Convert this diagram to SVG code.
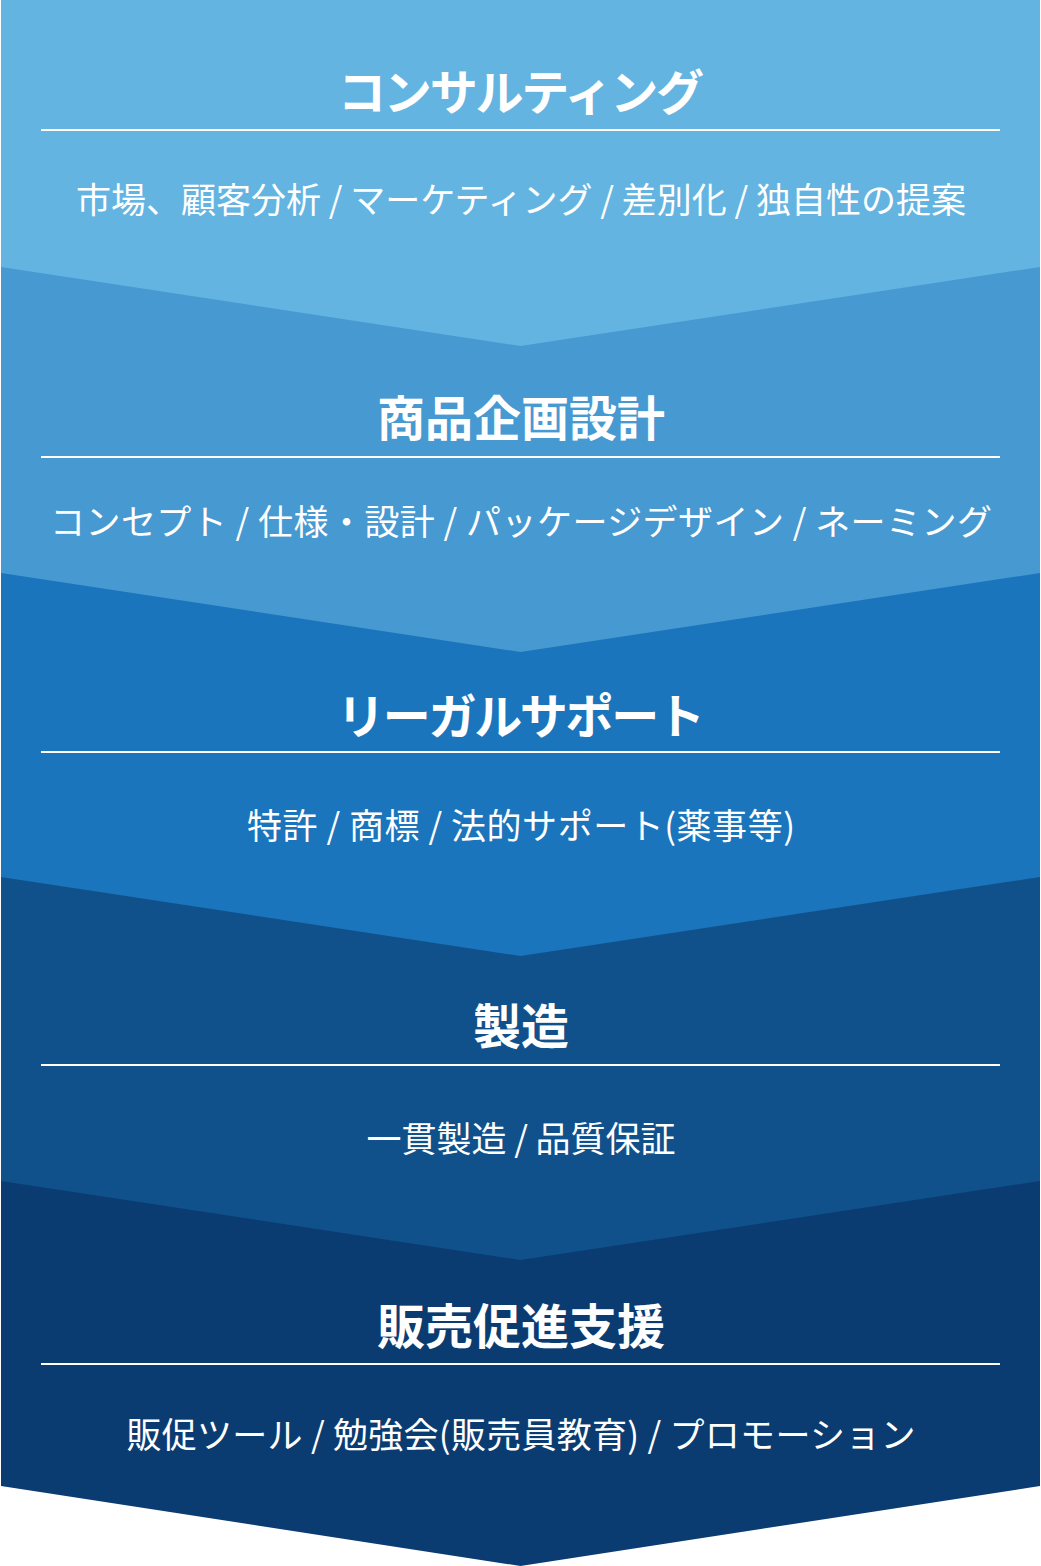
<svg xmlns="http://www.w3.org/2000/svg" width="1041" height="1566" viewBox="0 0 1041 1566">
<style>
.t{font-family:"Noto Sans CJK JP","Noto Sans CJK SC",sans-serif;font-weight:700;font-size:48px;fill:#fff;text-anchor:middle}
.s{font-family:"Noto Sans CJK JP","Noto Sans CJK SC",sans-serif;font-weight:400;font-size:35px;fill:#fff;text-anchor:middle}
.r{stroke:#fff;stroke-width:2;fill:none}
</style>
<rect width="1041" height="1566" fill="#fff"/>
<g id="band5">
<polygon points="1,0 1040,0 1040,1486 520.5,1566 1,1486" fill="#0b3c71"/>
<text class="t" x="521" y="1344">販売促進支援</text>
<line class="r" x1="41" y1="1364" x2="1000" y2="1364"/>
<text class="s" x="521" y="1448" textLength="789" lengthAdjust="spacing">販促ツール / 勉強会(販売員教育) / プロモーション</text>
</g>
<g id="band4">
<polygon points="1,0 1040,0 1040,1181 520.5,1260 1,1181" fill="#10518c"/>
<text class="t" x="521" y="1044">製造</text>
<line class="r" x1="41" y1="1065" x2="1000" y2="1065"/>
<text class="s" x="521" y="1152" textLength="309" lengthAdjust="spacing">一貫製造 / 品質保証</text>
</g>
<g id="band3">
<polygon points="1,0 1040,0 1040,877 520.5,956 1,877" fill="#1b75bc"/>
<text class="t" x="521" y="734" textLength="368" lengthAdjust="spacing">リーガルサポート</text>
<line class="r" x1="41" y1="752" x2="1000" y2="752"/>
<text class="s" x="521" y="839" textLength="548" lengthAdjust="spacing">特許 / 商標 / 法的サポート(薬事等)</text>
</g>
<g id="band2">
<polygon points="1,0 1040,0 1040,573 520.5,652 1,573" fill="#4799d1"/>
<text class="t" x="521" y="436">商品企画設計</text>
<line class="r" x1="41" y1="457" x2="1000" y2="457"/>
<text class="s" x="521" y="535" textLength="942" lengthAdjust="spacing">コンセプト / 仕様・設計 / パッケージデザイン / ネーミング</text>
</g>
<g id="band1">
<polygon points="1,0 1040,0 1040,267 520.5,346 1,267" fill="#64b4e2"/>
<text class="t" x="521" y="110" textLength="366" lengthAdjust="spacing">コンサルティング</text>
<line class="r" x1="41" y1="130" x2="1000" y2="130"/>
<text class="s" x="521" y="213" textLength="890" lengthAdjust="spacing">市場、顧客分析 / マーケティング / 差別化 / 独自性の提案</text>
</g>
</svg>
